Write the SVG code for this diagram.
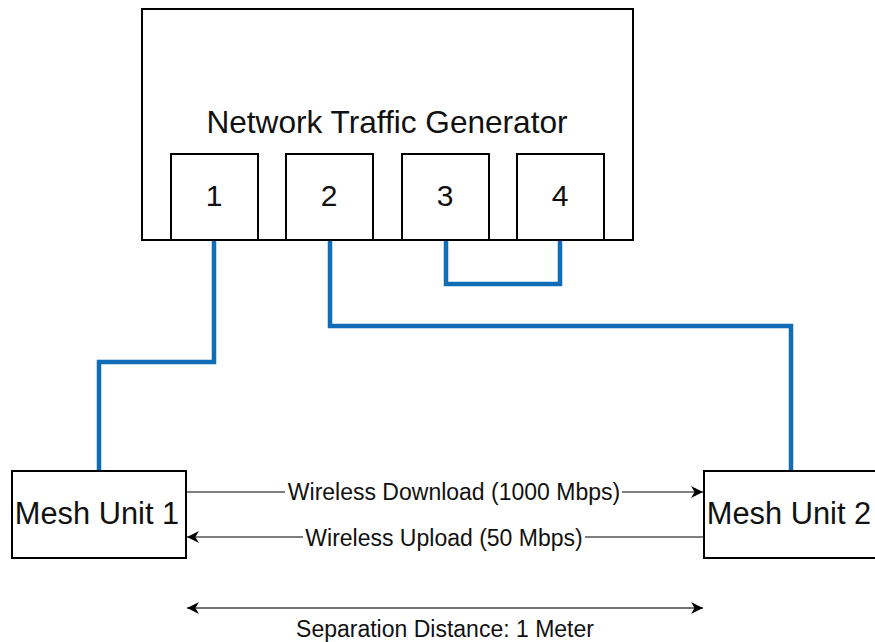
<svg xmlns="http://www.w3.org/2000/svg" width="875" height="642" viewBox="0 0 875 642">
<defs>
<style>
.box{fill:#fff;stroke:#000;stroke-width:2}
.t{font-family:"Liberation Sans",Arial,sans-serif;fill:#111;text-anchor:middle}
.cable{fill:none;stroke:#0F6DB5;stroke-width:4.5;stroke-linejoin:miter}
.link{fill:none;stroke:#000;stroke-width:1.2}
.dim{fill:none;stroke:#444;stroke-width:1.6}
.lbl{fill:#fff;stroke:none}
</style>
<marker id="ah" viewBox="0 0 10 10" refX="10" refY="5" markerWidth="12" markerHeight="12" markerUnits="userSpaceOnUse" orient="auto-start-reverse">
<path d="M0,0 L10,5 L0,10 L3,5 Z" fill="#000"/>
</marker>
</defs>
<rect width="875" height="642" fill="#fff"/>
<g id="connectors">
<path class="cable" d="M214,240 V362 H99 V471"/>
<path class="cable" d="M330,240 V326 H791 V472"/>
<path class="cable" d="M446,240 V284 H560 V240"/>
<path class="link" d="M186,492 H703" marker-end="url(#ah)"/>
<path class="link" d="M704,537 H187" marker-end="url(#ah)"/>
<path class="dim" d="M187,608 H703" marker-start="url(#ah)" marker-end="url(#ah)"/>
<rect class="lbl" x="285" y="479" width="337" height="26"/>
<text class="t" x="454" y="500" font-size="23">Wireless Download (1000 Mbps)</text>
<rect class="lbl" x="303" y="524" width="282" height="26"/>
<text class="t" x="444" y="546" font-size="23">Wireless Upload (50 Mbps)</text>
<text class="t" x="445" y="637" font-size="23">Separation Distance: 1 Meter</text>
</g>
<g id="generator">
<rect class="box" x="142" y="9" width="491" height="231"/>
<text class="t" x="387" y="133" font-size="31.6">Network Traffic Generator</text>
</g>
<g id="port1">
<rect class="box" x="171" y="154" width="87" height="86"/>
<text class="t" x="214" y="206" font-size="30">1</text>
</g>
<g id="port2">
<rect class="box" x="286" y="154" width="87" height="86"/>
<text class="t" x="329" y="206" font-size="30">2</text>
</g>
<g id="port3">
<rect class="box" x="402" y="154" width="87" height="86"/>
<text class="t" x="445" y="206" font-size="30">3</text>
</g>
<g id="port4">
<rect class="box" x="517" y="154" width="87" height="86"/>
<text class="t" x="560" y="206" font-size="30">4</text>
</g>
<g id="mesh1">
<rect class="box" x="12" y="471" width="174" height="87"/>
<text class="t" x="97" y="524" font-size="30.8">Mesh Unit 1</text>
</g>
<g id="mesh2">
<rect class="box" x="704" y="471" width="174" height="87"/>
<text class="t" x="789" y="524" font-size="30.8">Mesh Unit 2</text>
</g>
</svg>
